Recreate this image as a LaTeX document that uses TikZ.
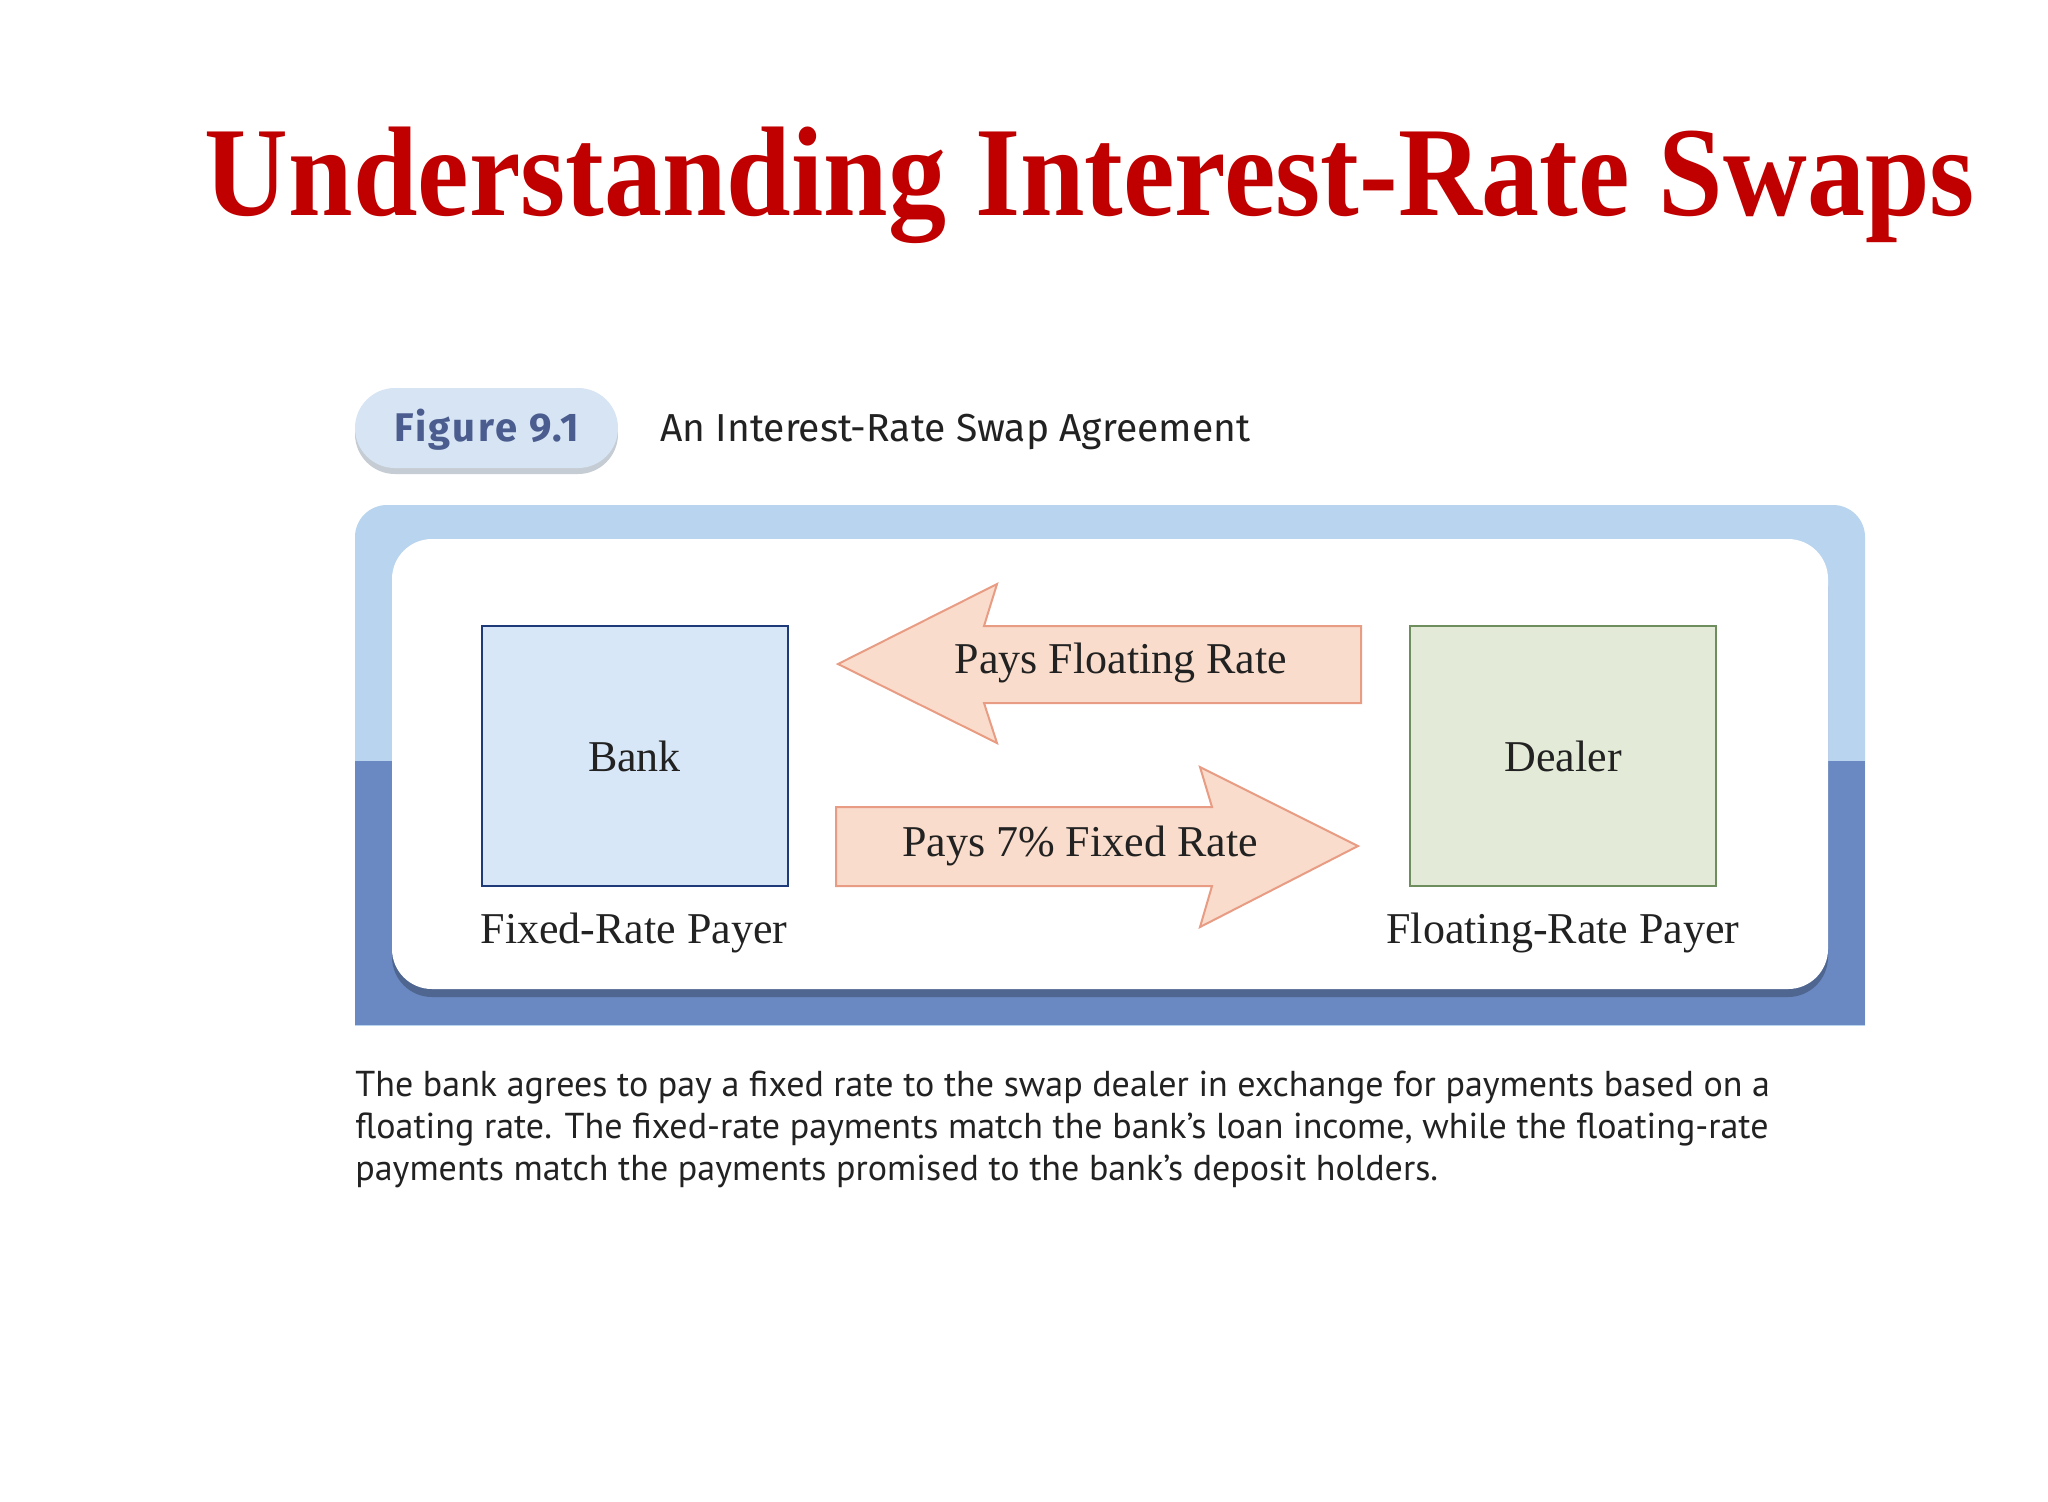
\documentclass[tikz,border=0pt]{standalone}
\usepackage{fontspec}
\setmainfont{Liberation Serif}
\newfontfamily\capfont{PT Sans}
\newfontfamily\figfont{Fira Sans}
\newfontfamily\figfontwide[LetterSpace=6]{Fira Sans}
\usetikzlibrary{shadows}
\definecolor{titlered}{HTML}{C00000}
\definecolor{panellight}{HTML}{B8D4EE}
\definecolor{paneldark}{HTML}{6A89C2}
\definecolor{pillfill}{HTML}{D6E4F4}
\definecolor{figblue}{HTML}{4B5C8E}
\definecolor{bankfill}{HTML}{D8E7F8}
\definecolor{bankline}{HTML}{1F3A78}
\definecolor{dealerfill}{HTML}{E3EBD8}
\definecolor{dealerline}{HTML}{6E8E5E}
\definecolor{arrowfill}{HTML}{F9DCCB}
\definecolor{arrowline}{HTML}{E89C84}
\definecolor{textgray}{HTML}{222222}
\tikzset{
  partybox/.style={draw, line width=1pt, minimum width=153pt, minimum height=130pt, inner sep=0pt,
    font=\fontsize{22}{26}\selectfont, text=textgray},
  rolelabel/.style={anchor=base, inner sep=0pt, font=\fontsize{22}{26}\selectfont, text=textgray},
  flowarrow/.style={fill=arrowfill, draw=arrowline, line width=1pt, line join=miter},
  flowlabel/.style={inner sep=0pt, font=\fontsize{22}{26}\selectfont, text=textgray},
  captionline/.style={anchor=base west, inner sep=0pt, font=\capfont\fontsize{18}{20}\selectfont, text=textgray}
}
\begin{document}
\begin{tikzpicture}[x=0.5pt,y=-0.5pt]
\useasboundingbox[fill=white] (0,0) rectangle (2048,1501);
% title
\node[anchor=base, inner sep=0pt, text=titlered, font=\bfseries\fontsize{58}{64}\selectfont] (title) at (1090,215) {\scalebox{1}[1.1]{Understanding Interest-Rate Swaps}};
% figure pill
\path[fill=pillfill, rounded corners=20pt, drop shadow={shadow xshift=0pt, shadow yshift=-3pt, fill=black!25!pillfill, opacity=0.6}] (355,388) rectangle (618,468);
\node[anchor=base west, inner sep=0pt, text=figblue, font=\figfontwide\bfseries\fontsize{20}{22}\selectfont] (fig) at (394,441) {Figure 9.1};
\node[anchor=base west, inner sep=0pt, text=textgray, font=\figfont\fontsize{19.5}{22}\selectfont] (figtitle) at (660,441) {An Interest-Rate Swap Agreement};
% outer panel
\begin{scope}
\clip (355,505) rectangle (1865,1025);
\fill[panellight, rounded corners=16pt] (355,505) rectangle (1865,1080);
\fill[paneldark] (355,761) rectangle (1865,1025);
\end{scope}
% inner white panel
\path[fill=white, rounded corners=20pt, drop shadow={shadow xshift=0pt, shadow yshift=-4pt, fill=black!50!paneldark, opacity=0.5}] (392,539) rectangle (1828,989);
% parties
\node[partybox, fill=bankfill, draw=bankline] (bank) at (634.5,756) {Bank};
\node[partybox, fill=dealerfill, draw=dealerline] (dealer) at (1563,756) {Dealer};
\node[rolelabel] (bankrole) at (634,943) {Fixed-Rate Payer};
\node[rolelabel] (dealerrole) at (1563,943) {Floating-Rate Payer};
% arrows
\draw[flowarrow] (838,664) -- (997,584) -- (984,626) -- (1361,626) -- (1361,703) -- (984,703) -- (997,743) -- cycle;
\node[flowlabel] (floatlbl) at (1121,663) {Pays Floating Rate};
\draw[flowarrow] (1358,846) -- (1200,767) -- (1212,807) -- (836,807) -- (836,886) -- (1212,886) -- (1200,927) -- cycle;
\node[flowlabel] (fixedlbl) at (1080,846) {Pays 7\% Fixed Rate};
% caption
\node[captionline] (cap1) at (355,1096) {The bank agrees to pay a fixed rate to the swap dealer in exchange for payments based on a};
\node[captionline] (cap2) at (355,1138) {floating rate. The fixed-rate payments match the bank’s loan income, while the floating-rate};
\node[captionline] (cap3) at (355,1180) {payments match the payments promised to the bank’s deposit holders.};
\end{tikzpicture}
\end{document}
